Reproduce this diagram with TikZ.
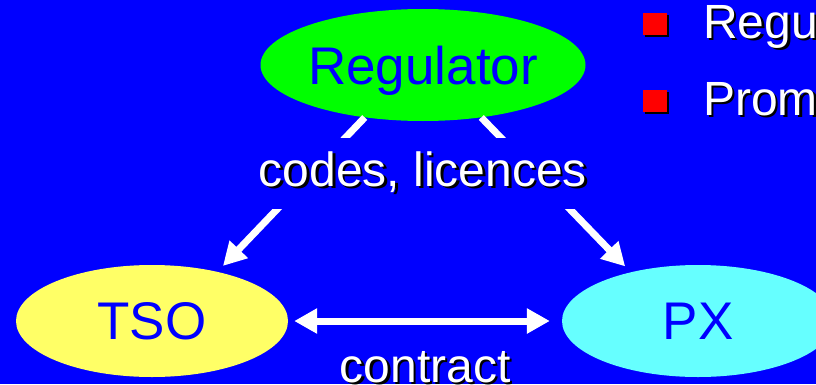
\documentclass[tikz,border=0pt]{standalone}
\usepackage{fontspec}
\setmainfont{Liberation Sans}
\usepackage{xcolor}
\usetikzlibrary{positioning,arrows.meta,shapes.geometric,shadows}

\definecolor{slideblue}{RGB}{0,0,255}
\definecolor{reggreen}{RGB}{0,255,0}
\definecolor{tsoyellow}{RGB}{255,255,102}
\definecolor{pxcyan}{RGB}{102,255,255}
\newcommand{\shadowtxt}[1]{\makebox[0pt][l]{\hspace{2.5pt}\raisebox{-2.5pt}{\color{black}#1}}#1}

\begin{document}
\begin{tikzpicture}[
    x=1pt, y=1pt,
    party/.style={ellipse, minimum width=272pt, minimum height=112pt, inner sep=0pt, text depth=0pt, text=slideblue, font=\fontsize{53}{60}\selectfont},
    lbl/.style={text=white, font=\fontsize{48}{58}\selectfont, inner sep=0pt},
    bul/.style={rectangle, fill=red, minimum width=24pt, minimum height=22pt, inner sep=0pt, drop shadow={shadow xshift=2pt, shadow yshift=-2pt, fill=black, opacity=1}},
    arrow/.style={-{Triangle[width=24pt, length=23pt]}, line width=7pt, white},
    darrow/.style={{Triangle[width=24pt, length=23pt]}-{Triangle[width=24pt, length=23pt]}, line width=7pt, white}
]
% Slide background
\path[use as bounding box, fill=slideblue] (0,0) rectangle (816,384);

% The three parties
\node[party, fill=reggreen]  (reg) at (423,319) {Regulator};
\node[party, fill=tsoyellow] (tso) at (152,63)  {TSO};
\node[party, fill=pxcyan]    (px)  at (698,63)  {PX};

% Regulator issues codes and licences
\draw[arrow, shorten >=8pt] (reg.222) -- (tso.37);
\draw[arrow, shorten >=8pt] (reg.318) -- (px.144);
\node[lbl, fill=slideblue, minimum height=71pt] (codes) at (423,211) {\shadowtxt{codes, licences}};

% Contract between TSO and PX
\draw[darrow, shorten <=6pt, shorten >=12pt] (tso) -- node[lbl, anchor=base, yshift=-61pt] (contract) {\shadowtxt{contract}} (px);

% Bullet list on the right
\node[bul] (b1) at (655,360) {};
\node[bul, below=55pt of b1] (b2) {};
\node[lbl, anchor=base west] (t1) at (703,346) {\shadowtxt{Regu}};
\node[lbl, anchor=base west] (t2) at (703,269) {\shadowtxt{Prom}};

\end{tikzpicture}
\end{document}
